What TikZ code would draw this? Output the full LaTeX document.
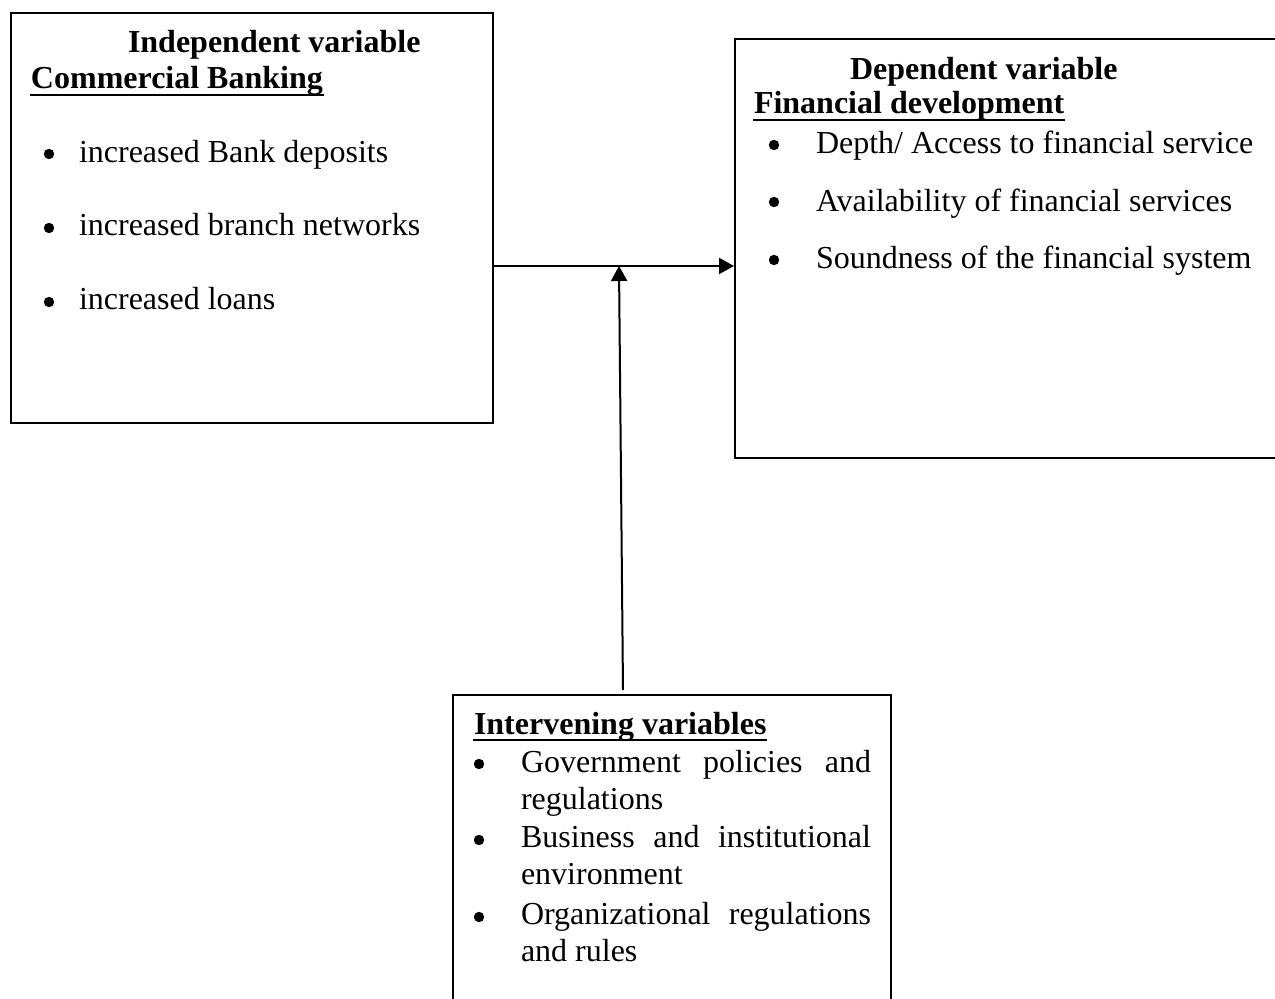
\documentclass[tikz,border=0pt]{standalone}
\usepackage{fontspec}
\setmainfont{Liberation Serif}
\usetikzlibrary{arrows.meta}
\tikzset{>={Triangle[length=7.5pt,width=8pt]},font=\fontsize{16}{19}\selectfont}

\begin{document}
\begin{tikzpicture}[x=0.5pt,y=-0.5pt,line width=1pt,
  box/.style={draw,line width=1.2pt,anchor=north west,inner sep=0pt},
  txt/.style={anchor=base west,inner sep=0pt},
  hd/.style={txt,font=\fontsize{16}{19}\selectfont\bfseries},
  dot/.style={circle,fill=black,inner sep=0pt,minimum size=5.2pt},
  ul/.style={line width=1.3pt}]
\useasboundingbox (0,0) rectangle (1275,999);
% boxes
\node[box,minimum width=241pt,minimum height=205pt] (CB) at (10,12) {};
\node[box,minimum width=280pt,minimum height=209.5pt] (FD) at (734,38) {};
\node[box,minimum width=219pt,minimum height=160pt] (IV) at (452,694) {};
% independent variable
\node[hd] (CBh) at (127,53) {Independent variable};
\node[hd] (CBt) at (30,89) {Commercial Banking};
\draw[ul] ([yshift=-3pt]CBt.base west) -- ([yshift=-3pt]CBt.base east);
\node[dot] (CBd1) at (49,154) {};
\node[dot] (CBd2) at (49,228) {};
\node[dot] (CBd3) at (49,302) {};
\node[txt] (CB1) at (78,163) {increased Bank deposits};
\node[txt] (CB2) at (78,236) {increased branch networks};
\node[txt] (CB3) at (78,310) {increased loans};
% dependent variable
\node[hd] (FDh) at (849,80) {Dependent variable};
\node[hd] (FDt) at (753,114) {Financial development};
\draw[ul] ([yshift=-3pt]FDt.base west) -- ([yshift=-3pt]FDt.base east);
\node[dot] (FDd1) at (774,145) {};
\node[dot] (FDd2) at (774,202) {};
\node[dot] (FDd3) at (774,260) {};
\node[txt] (FD1) at (815,154) {Depth/ Access to financial service};
\node[txt] (FD2) at (815,212) {Availability of financial services};
\node[txt] (FD3) at (815,269) {Soundness of the financial system};
% intervening variables
\node[hd] (IVt) at (473,734) {Intervening variables};
\draw[ul] ([yshift=-3pt]IVt.base west) -- ([yshift=-3pt]IVt.base east);
\node[dot] (IVd1) at (479,764) {};
\node[dot] (IVd2) at (479,840) {};
\node[dot] (IVd3) at (479,917) {};
\node[txt] (IV1a) at (520,773) {\makebox[175pt][s]{Government policies and}};
\node[txt] (IV1b) at (520,809) {regulations};
\node[txt] (IV2a) at (520,848) {\makebox[175pt][s]{Business  and institutional}};
\node[txt] (IV2b) at (520,884) {environment};
\node[txt] (IV3a) at (520,924) {\makebox[175pt][s]{Organizational regulations}};
\node[txt] (IV3b) at (520,961) {and rules};
% arrows
\coordinate (J) at (619,266);
\coordinate (S) at (623,690);
\path[->] (CB.east |- J) edge (FD.west |- J);
\path[->] (S) edge (J);
\end{tikzpicture}
\end{document}
